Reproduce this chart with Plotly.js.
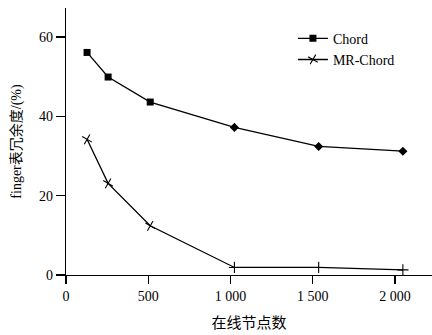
<!DOCTYPE html>
<html>
<head>
<meta charset="utf-8">
<script src="https://cdn.plot.ly/plotly-3.0.1.min.js"></script>
<style>html,body{margin:0;padding:0;background:#fff;}#chart{width:432px;height:335px;}</style>
</head>
<body>
<div id="chart"></div>
<script>
const nodes = [128, 256, 512, 1024, 1536, 2048];
const chord = [56.1, 49.9, 43.6, 37.2, 32.4, 31.2];
const mrChord = [34.2, 23.1, 12.4, 1.9, 1.9, 1.3];
const xTickVals = [0, 500, 1000, 1500, 2000];
const xTickText = ['0', '500', '1 000', '1 500', '2 000'];
const yTickVals = [0, 20, 40, 60];

const serif = 'Liberation Serif, Times New Roman, Noto Sans CJK SC, serif';

const traces = [
  {
    x: nodes, y: chord, name: 'Chord', mode: 'lines+markers',
    line: {color: '#000', width: 1.3},
    marker: {color: '#000', size: 7, symbol: ['square', 'square', 'square', 'diamond', 'diamond', 'diamond']}
  },
  {
    x: nodes, y: mrChord, name: 'MR-Chord', mode: 'lines+markers',
    line: {color: '#000', width: 1.3},
    marker: {color: '#000', size: 8, symbol: 'cross-thin', angle: [30, 30, 30, 0, 0, 0], line: {color: '#000', width: 1.1}}
  }
];

const layout = {
  width: 432, height: 335,
  margin: {l: 66, r: 0, t: 8, b: 60},
  paper_bgcolor: '#fff', plot_bgcolor: '#fff',
  font: {family: serif, size: 14, color: '#000'},
  showlegend: true,
  legend: {x: 0.62, y: 0.945, xanchor: 'left', yanchor: 'top', bgcolor: 'rgba(0,0,0,0)', font: {size: 14}, tracegroupgap: 0, itemwidth: 30},
  xaxis: {
    range: [0, 2225], tickvals: xTickVals, ticktext: xTickText,
    ticks: 'outside', ticklen: 8, tickcolor: '#000', tickwidth: 1.3,
    showline: true, linecolor: '#000', linewidth: 1.3, showgrid: false, zeroline: false,
    title: {text: '在线节点数', font: {family: 'Noto Sans CJK SC, serif', size: 15}, standoff: 14}
  },
  yaxis: {
    range: [0, 67.3], tickvals: yTickVals,
    ticks: 'outside', ticklen: 9, tickcolor: '#000', tickwidth: 1.3,
    showline: true, linecolor: '#000', linewidth: 1.3, showgrid: false, zeroline: false,
    title: {text: 'finger表冗余度/(%)', font: {family: serif, size: 14}, standoff: 14}
  }
};

Plotly.newPlot('chart', traces, layout, {displayModeBar: false, staticPlot: true});
</script>
</body>
</html>
